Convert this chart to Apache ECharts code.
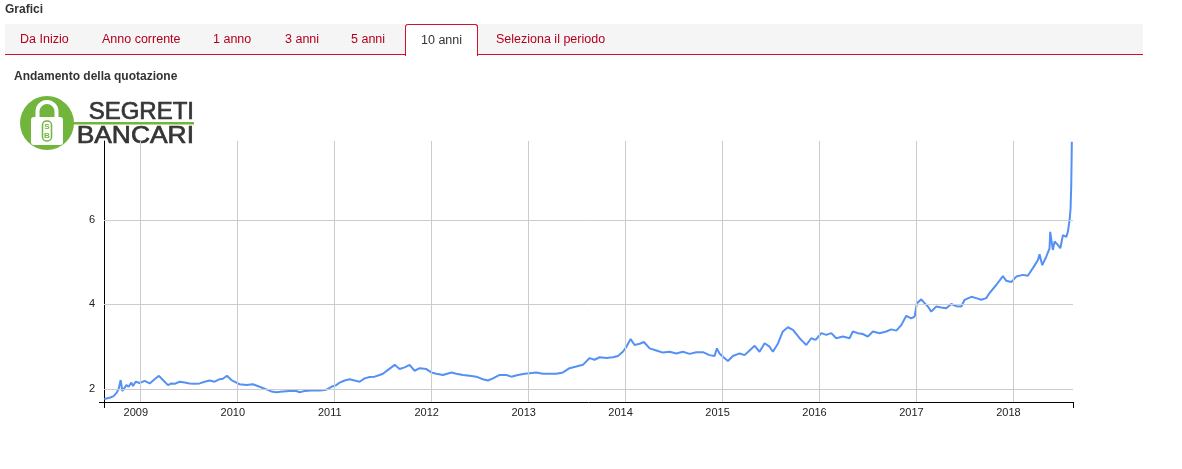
<!DOCTYPE html>
<html>
<head>
<meta charset="utf-8">
<script src="https://cdn.jsdelivr.net/npm/echarts@6/dist/echarts.min.js"></script>
<style>
html,body{margin:0;padding:0;background:#fff;}
#wrap{position:relative;width:1182px;height:469px;overflow:hidden;font-family:'Liberation Sans',Arial,sans-serif;}
#chart{position:absolute;left:0;top:0;width:1182px;height:469px;}
.h{position:absolute;font-weight:bold;font-size:12px;color:#333;white-space:nowrap;}
#tabs{position:absolute;left:5px;top:24px;width:1138px;height:30px;background:#f5f5f5;border-bottom:1px solid #d3102c;}
.tab{position:absolute;top:0;height:30px;line-height:30px;font-size:12.5px;color:#b3001e;white-space:nowrap;}
#active{position:absolute;left:400px;top:0;width:71px;height:31px;background:#fff;border:1px solid #d3102c;border-bottom:none;border-radius:3px 3px 0 0;}
#active span{position:absolute;left:15px;top:0;line-height:30px;font-size:12.5px;color:#333;}
</style>
</head>
<body>
<div id="wrap">
  <div id="chart"></div>
  <div class="h" style="left:5px;top:2px;">Grafici</div>
  <div id="tabs">
    <div class="tab" style="left:15px;">Da Inizio</div>
    <div class="tab" style="left:97px;">Anno corrente</div>
    <div class="tab" style="left:208px;">1 anno</div>
    <div class="tab" style="left:280px;">3 anni</div>
    <div class="tab" style="left:346px;">5 anni</div>
    <div id="active"><span>10 anni</span></div>
    <div class="tab" style="left:491px;">Seleziona il periodo</div>
  </div>
  <div class="h" style="left:14px;top:69px;">Andamento della quotazione</div>
</div>
<script>
// Dates as fractional years
const yearPos = [
  2008.627, 2008.683, 2008.725, 2008.756, 2008.776, 2008.797, 2008.814, 2008.856, 2008.879, 2008.907, 2008.924, 2008.952, 2008.993,
  2009.044, 2009.096, 2009.147, 2009.192, 2009.233, 2009.285, 2009.320, 2009.354, 2009.405, 2009.457, 2009.508, 2009.560, 2009.612,
  2009.663, 2009.715, 2009.766, 2009.818, 2009.852, 2009.893, 2009.939, 2009.990, 2010.024, 2010.093, 2010.161, 2010.230, 2010.300,
  2010.351, 2010.403, 2010.471, 2010.540, 2010.609, 2010.643, 2010.695, 2010.764, 2010.849, 2010.918, 2010.970, 2011.021, 2011.056,
  2011.107, 2011.159, 2011.210, 2011.262, 2011.313, 2011.365, 2011.417, 2011.468, 2011.502, 2011.554,
  2011.589, 2011.623, 2011.674, 2011.726, 2011.777, 2011.829, 2011.881, 2011.950,
  2012.001, 2012.053, 2012.121, 2012.208, 2012.259, 2012.327, 2012.396, 2012.465, 2012.533, 2012.585, 2012.637, 2012.706, 2012.775, 2012.826, 2012.894, 2012.964,
  2013.015, 2013.084, 2013.152, 2013.221, 2013.290, 2013.359,
  2013.427, 2013.497, 2013.565, 2013.634, 2013.685, 2013.737, 2013.806, 2013.874, 2013.926, 2013.977,
  2014.012, 2014.057, 2014.098, 2014.150, 2014.194, 2014.253, 2014.322, 2014.390, 2014.459, 2014.528, 2014.596, 2014.665, 2014.734, 2014.802, 2014.871, 2014.923, 2014.947, 2014.974,
  2015.009, 2015.060, 2015.112, 2015.181, 2015.232, 2015.284, 2015.336, 2015.387, 2015.439, 2015.490, 2015.524, 2015.576, 2015.627, 2015.679, 2015.731,
  2015.746, 2015.800, 2015.834, 2015.869, 2015.920, 2015.965,
  2016.024, 2016.075, 2016.127, 2016.178, 2016.246, 2016.315, 2016.349, 2016.401, 2016.452, 2016.504, 2016.556, 2016.625, 2016.694, 2016.745, 2016.797, 2016.849, 2016.900, 2016.952, 2016.986,
  2017.010, 2017.055, 2017.089, 2017.123, 2017.158, 2017.210, 2017.261, 2017.313, 2017.364, 2017.416, 2017.468, 2017.502, 2017.571, 2017.622, 2017.674, 2017.725, 2017.759, 2017.828, 2017.897,
  2017.932, 2017.983, 2018.035, 2018.103, 2018.154, 2018.206, 2018.258, 2018.275, 2018.303, 2018.344, 2018.378, 2018.385, 2018.412, 2018.430, 2018.464, 2018.489, 2018.516, 2018.551, 2018.567, 2018.585, 2018.595, 2018.602, 2018.608
];
// Quotazione values
const price = [
  1.76, 1.79, 1.83, 1.91, 2.00, 2.21, 1.95, 2.09, 2.05, 2.15, 2.07, 2.17, 2.14,
  2.19, 2.13, 2.23, 2.31, 2.21, 2.09, 2.13, 2.12, 2.17, 2.15, 2.13, 2.12, 2.13,
  2.17, 2.20, 2.17, 2.23, 2.24, 2.31, 2.21, 2.15, 2.11, 2.09, 2.11, 2.05, 1.99,
  1.94, 1.92, 1.94, 1.95, 1.95, 1.92, 1.95, 1.96, 1.96, 1.98, 2.05, 2.09, 2.15,
  2.20, 2.23, 2.20, 2.17, 2.25, 2.28, 2.29, 2.33, 2.36, 2.45,
  2.51, 2.57, 2.47, 2.51, 2.57, 2.43, 2.49, 2.47,
  2.39, 2.36, 2.33, 2.39, 2.36, 2.33, 2.31, 2.29, 2.23, 2.20, 2.25, 2.33, 2.33, 2.29, 2.33, 2.36,
  2.37, 2.39, 2.36, 2.36, 2.36, 2.39,
  2.49, 2.53, 2.57, 2.73, 2.69, 2.75, 2.73, 2.75, 2.78, 2.88,
  2.99, 3.18, 3.04, 3.07, 3.11, 2.96, 2.91, 2.86, 2.88, 2.84, 2.88, 2.83, 2.87, 2.87, 2.80, 2.78, 2.96, 2.84,
  2.76, 2.66, 2.78, 2.84, 2.80, 2.91, 3.02, 2.88, 3.08, 3.00, 2.88, 3.07, 3.36, 3.46, 3.40,
  3.36, 3.20, 3.12, 3.04, 3.20, 3.16,
  3.32, 3.28, 3.32, 3.20, 3.24, 3.20, 3.36, 3.32, 3.30, 3.24, 3.36, 3.32, 3.36, 3.41, 3.38, 3.51, 3.73, 3.67, 3.71,
  4.03, 4.12, 4.03, 3.95, 3.83, 3.95, 3.93, 3.91, 4.01, 3.96, 3.95, 4.11, 4.18, 4.15, 4.11, 4.15, 4.27, 4.46, 4.67,
  4.56, 4.53, 4.66, 4.70, 4.68, 4.86, 5.05, 5.19, 4.93, 5.13, 5.33, 5.72, 5.29, 5.49, 5.41, 5.33, 5.64, 5.60, 5.72, 6.00, 6.28, 6.83, 7.85
];
const yearTicks = [2009, 2010, 2011, 2012, 2013, 2014, 2015, 2016, 2017, 2018];
const valueTicks = [2, 4, 6];
const xRange = [2008.625, 2018.62];
const yRange = [1.69, 7.87];

const seriesData = yearPos.map((x, i) => [x, price[i]]);
const green = '#72b53c';
const ink = '#353535';

const chart = echarts.init(document.getElementById('chart'), null, {renderer: 'canvas'});
chart.setOption({
  animation: false,
  grid: {left: 104, right: 109, top: 141, bottom: 67},
  xAxis: {
    type: 'value', min: xRange[0], max: xRange[1],
    axisLine: {show: true, onZero: false, lineStyle: {color: '#000', width: 1}},
    axisTick: {show: true, customValues: xRange, length: 6, lineStyle: {color: '#000'}},
    axisLabel: {customValues: yearTicks, formatter: v => String(Math.round(v)), fontSize: 11,
      fontFamily: 'Liberation Sans', color: '#222', margin: 5, padding: [0, 9, 0, 0]},
    splitLine: {show: false}
  },
  yAxis: {
    type: 'value', min: yRange[0], max: yRange[1],
    axisLine: {show: true, onZero: false, lineStyle: {color: '#000', width: 1}},
    axisTick: {show: true, customValues: [yRange[0]], length: 5, lineStyle: {color: '#000'}},
    axisLabel: {customValues: valueTicks, fontSize: 11, fontFamily: 'Liberation Sans', color: '#222', margin: 9},
    splitLine: {show: false}
  },
  series: [
    {
      type: 'line', z: 1, data: [seriesData[0]], symbol: 'none', lineStyle: {opacity: 0}, silent: true,
      markLine: {
        silent: true, symbol: ['none', 'none'], label: {show: false}, animation: false,
        lineStyle: {color: '#cccccc', width: 1, type: 'solid'},
        data: yearTicks.map(y => ({xAxis: y})).concat(valueTicks.map(v => ({yAxis: v})))
      }
    },
    {
      type: 'line', z: 2, data: seriesData, symbol: 'none', showSymbol: false,
      lineStyle: {color: '#5591f5', width: 2}
    }
  ],
  graphic: [
    {type: 'circle', shape: {cx: 47, cy: 123, r: 27}, style: {fill: green}},
    {type: 'rect', shape: {x: 60, y: 122, width: 134, height: 2.5}, style: {fill: green}},
    {type: 'rect', shape: {x: 37.5, y: 102, width: 19, height: 24, r: 9.5}, style: {fill: null, stroke: '#fff', lineWidth: 4}},
    {type: 'rect', shape: {x: 31, y: 117, width: 32, height: 28, r: 3}, style: {fill: '#fff'}},
    {type: 'rect', shape: {x: 42.5, y: 121, width: 9, height: 20, r: 4}, style: {fill: null, stroke: green, lineWidth: 1.5}},
    {type: 'text', style: {x: 47, y: 126.5, text: 'S', fill: green, font: 'bold 8px Liberation Sans', align: 'center', verticalAlign: 'middle'}},
    {type: 'text', style: {x: 47, y: 135.5, text: 'B', fill: green, font: 'bold 8px Liberation Sans', align: 'center', verticalAlign: 'middle'}},
    {type: 'text', x: 194, y: 112, style: {x: 0, y: 0, text: 'SEGRETI', fill: ink, stroke: ink, lineWidth: 0.7,
      font: '24px Liberation Sans', align: 'right', verticalAlign: 'middle'}},
    {type: 'text', x: 194, y: 136, scaleX: 1.1, style: {x: 0, y: 0, text: 'BANCARI', fill: ink, stroke: ink, lineWidth: 0.7,
      font: '24px Liberation Sans', align: 'right', verticalAlign: 'middle'}}
  ]
});
</script>
</body>
</html>
